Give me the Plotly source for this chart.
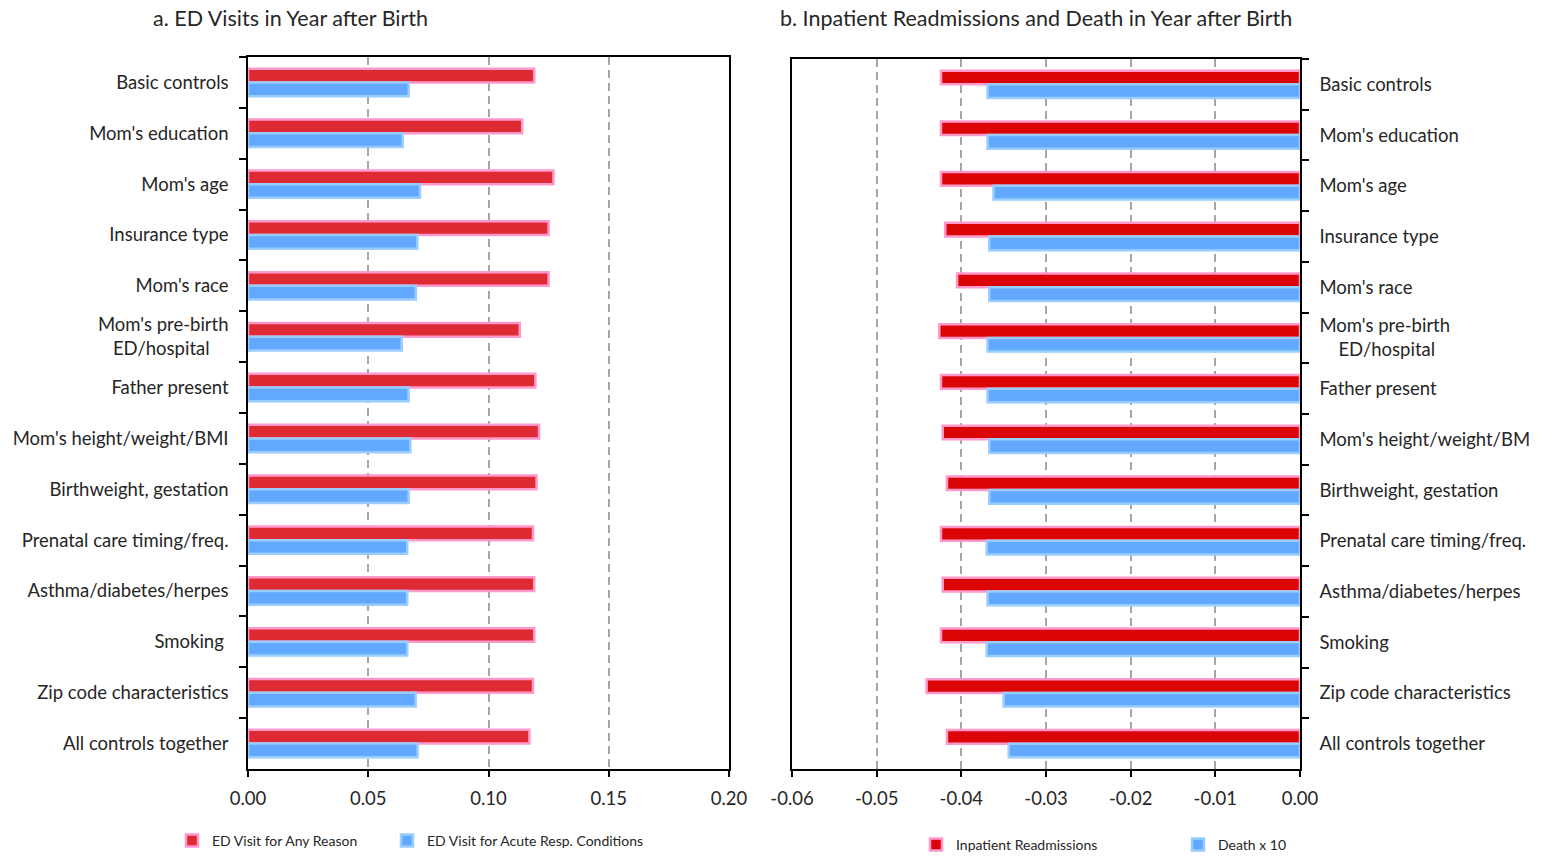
import plotly.graph_objects as go

# Row labels (top to bottom) for each panel
left_labels = [
    "Basic controls", "Mom's education", "Mom's age", "Insurance type", "Mom's race",
    "Mom's pre-birth<br>ED/hospital\u00a0\u00a0\u00a0\u00a0", "Father present",
    "Mom's height/weight/BMI", "Birthweight, gestation", "Prenatal care timing/freq.",
    "Asthma/diabetes/herpes", "Smoking ", "Zip code characteristics", "All controls together",
]
right_labels = [
    "Basic controls", "Mom's education", "Mom's age", "Insurance type", "Mom's race",
    "Mom's pre-birth<br>\u00a0\u00a0\u00a0\u00a0ED/hospital", "Father present",
    "Mom's height/weight/BM", "Birthweight, gestation", "Prenatal care timing/freq.",
    "Asthma/diabetes/herpes", "Smoking", "Zip code characteristics", "All controls together",
]

# Panel a: ED visits in year after birth
ed_any_reason = [0.119, 0.114, 0.127, 0.125, 0.125, 0.113, 0.1195,
                 0.121, 0.120, 0.1185, 0.119, 0.119, 0.1185, 0.117]
ed_acute_resp = [0.0668, 0.0643, 0.0715, 0.0704, 0.0698, 0.0639, 0.0668,
                 0.0675, 0.0668, 0.0662, 0.0662, 0.0662, 0.0697, 0.0705]

# Panel b: inpatient readmissions and death (x10) in year after birth
readmissions = [-0.0424, -0.0424, -0.0424, -0.0419, -0.0405, -0.0426, -0.0424,
                -0.0422, -0.0417, -0.0424, -0.0422, -0.0424, -0.0441, -0.0417]
death_x10 = [-0.0369, -0.0369, -0.0362, -0.0367, -0.0367, -0.0369, -0.0369,
             -0.0367, -0.0367, -0.0370, -0.0369, -0.0370, -0.0350, -0.0344]

left_ticks = [0.0, 0.05, 0.10, 0.15, 0.20]
left_ticktext = ["0.00", "0.05", "0.10", "0.15", "0.20"]
right_ticks = [-0.06, -0.05, -0.04, -0.03, -0.02, -0.01, 0.0]
right_ticktext = ["-0.06", "-0.05", "-0.04", "-0.03", "-0.02", "-0.01", "0.00"]

FONT = "Lato"
TXT = "#262626"
PINK = "#FF99CC"
LIGHTBLUE = "#99CCFF"
BLUE = "#62A8FF"

W, H = 1546, 856

series = [
    # (labels, values, name, fill, border, x axis, y axis, legend id, legend text x px, legend y px)
    (left_labels, ed_any_reason, "ED Visit for Any Reason", "#DE2A33", PINK, "x", "y", "legend", 212, 841),
    (left_labels, ed_acute_resp, "ED Visit for Acute Resp. Conditions", BLUE, LIGHTBLUE, "x", "y", "legend2", 427, 841),
    (right_labels, readmissions, "Inpatient Readmissions", "#DC0505", PINK, "x2", "y2", "legend3", 956, 845),
    (right_labels, death_x10, "Death x 10", BLUE, LIGHTBLUE, "x2", "y2", "legend4", 1218, 845),
]

fig = go.Figure()
legends = {}
for labels, vals, name, fill, border, xax, yax, leg, lx, ly in series:
    fig.add_trace(go.Bar(
        y=labels, x=vals, orientation="h", name=name,
        marker=dict(color=fill, line=dict(color=border, width=2.5)),
        xaxis=xax, yaxis=yax, legend=leg,
    ))
    # one legend box per entry so each label sits at its own spot
    legends[leg] = dict(
        orientation="h", x=(lx - 40) / W, y=1 - ly / H, xanchor="left", yanchor="middle",
        font=dict(family=FONT, size=14, color=TXT), bgcolor="rgba(0,0,0,0)",
        borderwidth=0, tracegroupgap=0,
    )

xa = dict(
    showline=True, linecolor="black", linewidth=1.5, mirror=True,
    ticks="outside", ticklen=6, tickcolor="black", tickwidth=1.5,
    showgrid=True, gridcolor="#A6A6A6", griddash="8px,5px", gridwidth=1.5,
    zeroline=False, tickfont=dict(family=FONT, size=18.5, color=TXT),
    tickmode="array", ticklabelstandoff=6, automargin=False,
)
ya = dict(
    type="category", autorange="reversed", showgrid=False, zeroline=False,
    showline=True, linecolor="black", linewidth=1.5, mirror=True,
    ticks="outside", ticklen=7, tickcolor="black", tickwidth=1.5, tickson="boundaries",
    tickfont=dict(family=FONT, size=18.5, color=TXT), ticklabelstandoff=14,
    automargin=False,
)

fig.update_layout(
    width=W, height=H, autosize=False,
    margin=dict(l=0, r=0, t=0, b=0, autoexpand=False),
    paper_bgcolor="white", plot_bgcolor="white",
    barmode="group", bargap=0.46, bargroupgap=0,
    xaxis=dict(xa, domain=[248 / W, 729 / W], range=[0, 0.2], anchor="y",
               tickvals=left_ticks, ticktext=left_ticktext),
    yaxis=dict(ya, domain=[1 - 769 / H, 1 - 57 / H], anchor="x",
               categoryorder="array", categoryarray=left_labels),
    xaxis2=dict(xa, domain=[792 / W, 1300 / W], range=[-0.06, 0], anchor="y2",
                tickvals=right_ticks, ticktext=right_ticktext),
    yaxis2=dict(ya, domain=[1 - 769 / H, 1 - 59 / H], anchor="x2", side="right",
                categoryorder="array", categoryarray=right_labels),
    showlegend=True,
    annotations=[
        dict(text="a. ED Visits in Year after Birth", x=290 / W, y=1 - 18 / H,
             xref="paper", yref="paper", showarrow=False, xanchor="center", yanchor="middle",
             font=dict(family=FONT, size=21.5, color=TXT)),
        dict(text="b. Inpatient Readmissions and Death in Year after Birth", x=1036 / W,
             y=1 - 18 / H, xref="paper", yref="paper", showarrow=False,
             xanchor="center", yanchor="middle", font=dict(family=FONT, size=21.5, color=TXT)),
    ],
    **legends,
)

fig.write_html("out.html")
